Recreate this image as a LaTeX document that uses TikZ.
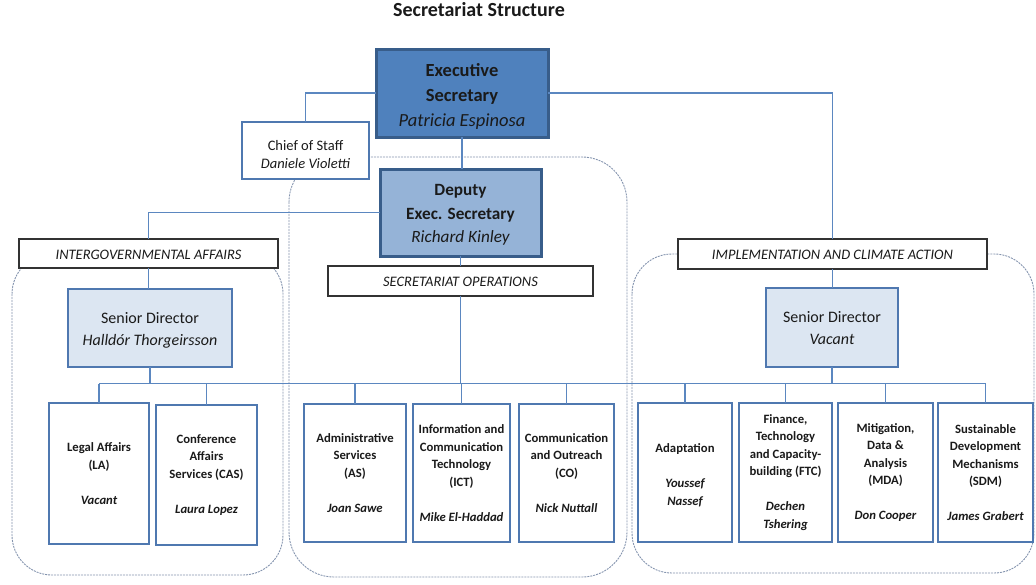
\documentclass[tikz,border=0pt]{standalone}
\usepackage{fontspec}
\setmainfont{Carlito}
\definecolor{execfill}{HTML}{4F81BD}
\definecolor{execdraw}{HTML}{385D8A}
\definecolor{depfill}{HTML}{95B3D7}
\definecolor{sdfill}{HTML}{DCE6F2}
\definecolor{linec}{HTML}{5B87C0}
\definecolor{boxdraw}{HTML}{4F78B0}
\definecolor{contc}{HTML}{8494AE}
\definecolor{txt}{HTML}{1A1A1A}
\tikzset{
  x=1pt, y=-1pt,
  every node/.style={inner sep=0pt, outer sep=0pt, text=txt, align=center},
  container/.style={draw=contc, line width=0.9pt, dash pattern=on 2pt off 1pt},
  conn/.style={draw=linec, line width=1.3pt},
  execbox/.style={draw=execdraw, fill=execfill, line width=3pt, font=\fontsize{18.5}{25}\selectfont},
  depbox/.style={draw=execdraw, fill=depfill, line width=3pt, font=\fontsize{17.2}{23.5}\selectfont},
  chiefbox/.style={draw=boxdraw, fill=white, line width=1.1pt, font=\fontsize{14.5}{18}\selectfont},
  labelbox/.style={draw=black!80, fill=white, line width=1.4pt, font=\fontsize{14.5}{16}\selectfont\itshape},
  sdbox/.style={draw=boxdraw, fill=sdfill, line width=1.2pt, font=\fontsize{16}{22}\selectfont},
  unitbox/.style={draw=boxdraw, fill=white, line width=1.2pt, font=\fontsize{12.7}{17.5}\selectfont\bfseries},
}
\newcommand{\pname}[1]{{\itshape #1}}
\newcommand{\lowered}[2]{\raisebox{-#1}[\height][\depth]{\begin{tabular}{@{}c@{}}#2\end{tabular}}}
\begin{document}
\begin{tikzpicture}
\useasboundingbox (0,0) rectangle (1036,584);
% containers
\draw[container, rounded corners=40pt] (12,254) rectangle (283,575);
\draw[container, rounded corners=45pt] (289,157) rectangle (627,577);
\draw[container, rounded corners=40pt] (632,254) rectangle (1034,573);
% title
\node[font=\fontsize{20}{24}\selectfont\bfseries] (title) at (479,10) {Secretariat Structure};
% top level
\node[execbox, minimum width=172, minimum height=88] (exec) at (462,93)
  {\lowered{3pt}{\textbf{Executive}\\\textbf{Secretary}\\\pname{Patricia Espinosa}}};
\node[chiefbox, minimum width=127, minimum height=57] (chief) at (305.5,150.5)
  {\lowered{5.5pt}{Chief of Staff\\\pname{Daniele Violetti}}};
\node[depbox, minimum width=161, minimum height=87] (dep) at (460.5,212.5)
  {\lowered{2pt}{\textbf{Deputy}\\\textbf{Exec. Secretary}\\\pname{Richard Kinley}}};
% labels
\node[labelbox, minimum width=259, minimum height=29] (ia) at (148.5,253.5) {\lowered{2.5pt}{INTERGOVERNMENTAL AFFAIRS}};
\node[labelbox, minimum width=265, minimum height=30] (so) at (460.5,281) {\lowered{2.5pt}{SECRETARIAT OPERATIONS}};
\node[labelbox, minimum width=309, minimum height=30] (impl) at (832.5,254) {\lowered{2.5pt}{IMPLEMENTATION AND CLIMATE ACTION}};
% senior directors
\node[sdbox, minimum width=164, minimum height=78] (sd1) at (150,328)
  {\lowered{2pt}{Senior Director\\\pname{Halldór Thorgeirsson}}};
\node[sdbox, minimum width=132, minimum height=79] (sd2) at (832,327.5)
  {\lowered{2pt}{Senior Director\\\pname{Vacant}}};
% units
\node[unitbox, minimum width=100, minimum height=141] (la) at (99,473.5)
  {Legal Affairs\\(LA)\\[17.5pt]\pname{Vacant}};
\node[unitbox, minimum width=101, minimum height=140] (cas) at (206.5,475)
  {Conference\\Affairs\\Services (CAS)\\[17.5pt]\pname{Laura Lopez}};
\node[unitbox, minimum width=102, minimum height=138] (as) at (355,473)
  {Administrative\\Services\\(AS)\\[17.5pt]\pname{Joan Sawe}};
\node[unitbox, minimum width=97, minimum height=138] (ict) at (461.5,473)
  {Information and\\Communication\\Technology\\(ICT)\\[17.5pt]\pname{Mike El-Haddad}};
\node[unitbox, minimum width=95, minimum height=138] (co) at (566.5,473)
  {Communication\\and Outreach\\(CO)\\[17.5pt]\pname{Nick Nuttall}};
\node[unitbox, minimum width=94, minimum height=139] (ad) at (685,472.5)
  {\lowered{3pt}{Adaptation\\[17.5pt]\pname{Youssef}\\\pname{Nassef}}};
\node[unitbox, minimum width=93, minimum height=139] (ftc) at (785.5,472.5)
  {Finance,\\Technology\\and Capacity-\\building (FTC)\\[17.5pt]\pname{Dechen}\\\pname{Tshering}};
\node[unitbox, minimum width=95, minimum height=139] (mda) at (885.5,472.5)
  {Mitigation,\\Data \&\\Analysis\\(MDA)\\[17.5pt]\pname{Don Cooper}};
\node[unitbox, minimum width=95, minimum height=139] (sdm) at (985.5,472.5)
  {Sustainable\\Development\\Mechanisms\\(SDM)\\[17.5pt]\pname{James Grabert}};
% connectors
\coordinate (bus) at (99,383.5);
\draw[conn] (exec.west) -| (chief.north);
\draw[conn] (exec.east) -| (impl.north);
\draw[conn] (exec.south) -- (exec.south |- dep.north);
\draw[conn] (dep.west) -| (ia.north);
\draw[conn] (dep.south) -- (dep.south |- so.north);
\draw[conn] (ia.south) -- (ia.south |- sd1.north);
\draw[conn] (impl.south) -- (impl.south |- sd2.north);
\draw[conn] (sd1.south) -- (sd1.south |- bus);
\draw[conn] (so.south) -- (so.south |- bus);
\draw[conn] (sd2.south) -- (sd2.south |- bus);
\draw[conn] (la.north |- bus) -- (sdm.north |- bus);
\foreach \n in {la,cas,as,ict,co,ad,ftc,mda,sdm}
  \draw[conn] (\n.north) -- (\n.north |- bus);
\end{tikzpicture}
\end{document}
